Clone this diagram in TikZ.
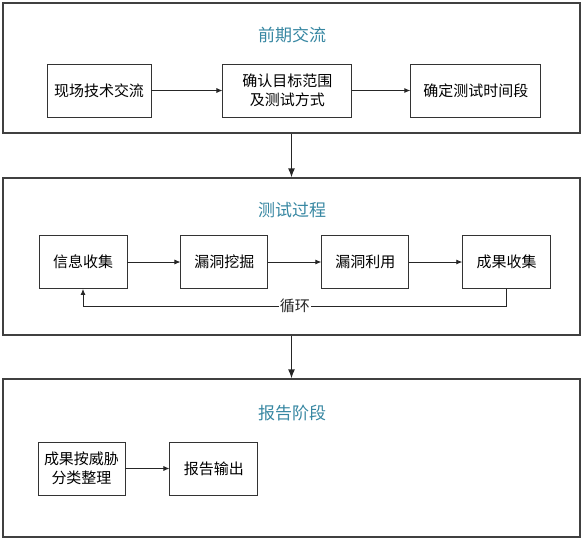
\documentclass[tikz,border=0pt]{standalone}
\usepackage{fontspec}
\newfontfamily\cjk{Noto Sans CJK SC}
\usetikzlibrary{positioning}
\usetikzlibrary{arrows.meta}
\definecolor{phaseteal}{RGB}{55,135,162}

\tikzset{
  panel/.style={draw=black!75, line width=1.2pt, rectangle, minimum width=577pt},
  title/.style={font=\cjk\fontsize{17}{20}\selectfont, text=phaseteal},
  box/.style={draw=black!80, line width=0.9pt, rectangle, minimum height=53pt,
    align=center, inner sep=2pt, font=\cjk\fontsize{15}{19}\selectfont},
  arr/.style={-{Latex[length=6pt,width=5pt]}, line width=0.8pt, black!85},
  bigarr/.style={-{Latex[length=9pt,width=7pt]}, line width=1.4pt, black!85}
}

\begin{document}
\begin{tikzpicture}[x=1pt, y=-1pt, node distance=53pt]
  \useasboundingbox (0,0) rectangle (582,539);
  % three phases
  \node (qqjl) [panel, minimum height=130pt] at (291.5,68) {};
  \node (csgc) [panel, minimum height=157pt] at (291.5,256.5) {};
  \node (bgjd) [panel, minimum height=158pt] at (291.5,458) {};
  \node [title] at (292,35) {前期交流};
  \node [title] at (292,210) {测试过程};
  \node [title] at (292,413) {报告阶段};
  \draw[bigarr] (qqjl) -- (csgc); \draw[bigarr] (csgc) -- (bgjd);
  % phase one
  \node (xcjl) [box, minimum width=104pt] at (99,90.5) {现场技术交流};
  \node (qrmb) [box, minimum width=129pt, right=71pt of xcjl]
    {确认目标范围\\及测试方式};
  \node (qdsj) [box, minimum width=130pt, right=58pt of qrmb] {确定测试时间段};
  \draw[arr] (xcjl) -- (qrmb); \draw[arr] (qrmb) -- (qdsj);
  % phase two
  \node (xxsj) [box, minimum width=88pt] at (83,262) {信息收集};
  \node (ldwj) [box, minimum width=87pt, right=of xxsj] {漏洞挖掘};
  \node (ldly) [box, minimum width=87pt, right=of ldwj] {漏洞利用};
  \node (cgsj) [box, minimum width=88pt, right=of ldly] {成果收集};
  \draw[arr] (xxsj) -- (ldwj); \draw[arr] (ldwj) -- (ldly);
  \draw[arr] (ldly) -- (cgsj);
  \draw[arr] (cgsj.south) -- ++(0,17) -| (xxsj.south)
    node[pos=0.25, fill=white, inner sep=1pt, font=\cjk\fontsize{15}{19}\selectfont] {循环};
  % phase three
  \node (cgzl) [box, minimum width=87pt] at (81.5,468.5) {成果按威胁\\分类整理};
  \node (bgsc) [box, minimum width=88pt, right=44pt of cgzl] {报告输出};
  \draw[arr] (cgzl) -- (bgsc);
\end{tikzpicture}
\end{document}
